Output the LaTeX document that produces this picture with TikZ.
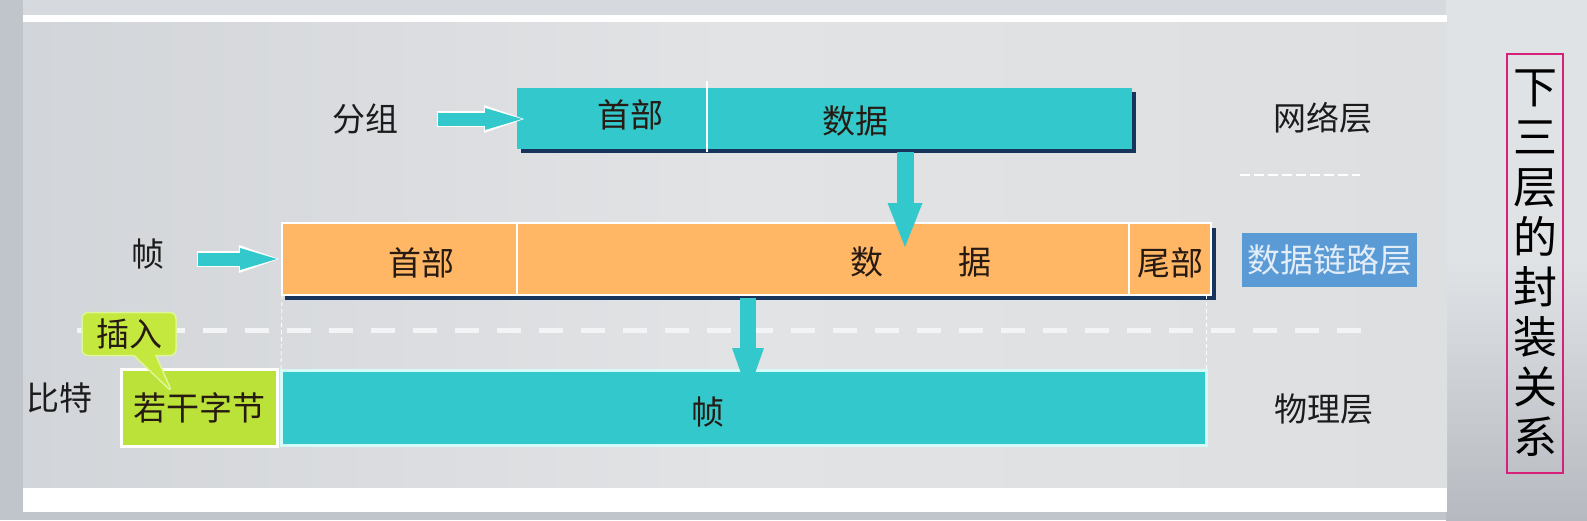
\documentclass[tikz,border=0pt]{standalone}
\usepackage{fontspec}
\setmainfont{Noto Sans CJK SC}
\usetikzlibrary{arrows.meta,calc,shapes.callouts}

\definecolor{tealc}{RGB}{51,201,204}
\definecolor{orangec}{RGB}{255,183,102}
\definecolor{navyc}{RGB}{22,52,92}
\definecolor{limec}{RGB}{186,226,56}
\definecolor{limec2}{RGB}{196,232,62}
\definecolor{limelt}{RGB}{222,246,150}
\definecolor{bluec}{RGB}{91,155,213}
\definecolor{bluetxt}{RGB}{226,237,248}
\definecolor{magc}{RGB}{214,32,122}
\definecolor{txtc}{RGB}{28,28,28}
\definecolor{boxtxt}{RGB}{38,26,18}
\definecolor{cyanlt}{RGB}{212,250,250}
\definecolor{outerc}{RGB}{192,197,203}
\definecolor{outtop}{RGB}{214,217,221}
\definecolor{panL}{RGB}{210,213,217}
\definecolor{panM}{RGB}{226,227,229}
\definecolor{panR}{RGB}{221,223,225}
\definecolor{rtT}{RGB}{224,227,230}
\definecolor{rtB}{RGB}{182,186,192}
\definecolor{dashw}{RGB}{242,244,246}

\begin{document}
\begin{tikzpicture}[x=1pt,y=-1pt,
  cell/.style={rectangle, inner sep=0pt, outer sep=0pt, anchor=north west},
  lbl/.style={font=\fontsize{33}{36}\selectfont, text=txtc, inner sep=0pt},
  bxt/.style={font=\fontsize{33}{36}\selectfont, text=boxtxt, inner sep=0pt},
  fatwhite/.style={white, line width=16pt, -{Triangle[width=28pt,length=40pt,line width=0pt]}, shorten >=-2pt, shorten <=-1.5pt},
  fath/.style={tealc, line width=13pt, -{Triangle[width=22pt,length=37pt,line width=0pt]}},
  fatv/.style={tealc, line width=17pt, -{Triangle[width=35pt,length=44pt,line width=0pt]}},
  vdash/.style={white, line width=0.8pt, dash pattern=on 4pt off 3pt},
  sepline/.style={white, line width=2pt}
]
\useasboundingbox (0,0) rectangle (1587,520);

% ---------- background ----------
\fill[outerc] (0,0) rectangle (1587,520);
\fill[outtop] (23,0) rectangle (1446,15);
\shade[top color=rtT, bottom color=rtB, middle color=rtT] (1446,0) rectangle (1587,520);
\fill[white] (23,15) rectangle (1447,22);
\shade[left color=panL, right color=panR, middle color=panM] (23,22) rectangle (1447,488);
\fill[white] (23,488) rectangle (1447,512);

% ---------- network layer ----------
\fill[navyc] (521,92) rectangle (1136,153);
\node[cell, fill=tealc, minimum width=190pt, minimum height=61pt] (nh) at (517,88) {};
\node[cell, fill=tealc, minimum width=425pt, minimum height=61pt] (nd) at (707,88) {};
\draw[sepline] (707,81) -- (707,152);
\node[bxt] (nht) at (630,115) {首部};
\node[bxt] (ndt) at (855,121) {数据};

\node[lbl] (fz) at (365,119) {分组};
\coordinate (a0s) at (438,119);
\coordinate (a0e) at (522,119);
\draw[fatwhite] (a0s) -- (a0e);
\draw[fath] (a0s) -- (a0e);

\node[lbl] (wl) at (1323,118) {网络层};
\draw[white, line width=2.5pt, dash pattern=on 10pt off 4pt] (1240,175) -- (1360,175);

% ---------- data link layer ----------
\fill[navyc] (285,228) rectangle (1216,300);
\node[cell, fill=orangec, draw=white, line width=2pt, minimum width=235pt, minimum height=72pt] (fh) at (282,223) {};
\node[cell, fill=orangec, draw=white, line width=2pt, minimum width=612pt, minimum height=72pt] (fd) at (517,223) {};
\node[cell, fill=orangec, draw=white, line width=2pt, minimum width=82pt, minimum height=72pt] (ft) at (1129,223) {};
\node[bxt] (fht) at (421,263) {首部};
\node[bxt] (fd1) at (867,262) {数};
\node[bxt] (fd2) at (975,262) {据};
\node[bxt] (ftt) at (1170,263) {尾部};

\node[lbl] (zh) at (148,254) {帧};
\coordinate (a3s) at (198,259);
\coordinate (a3e) at (277,259);
\draw[fatwhite] (a3s) -- (a3e);
\draw[fath] (a3s) -- (a3e);

\node[cell, fill=bluec, minimum width=175pt, minimum height=54pt,
      font=\fontsize{33}{36}\selectfont, text=bluetxt] (dll) at (1242,233) {数据链路层};

% arrow network -> frame
\coordinate (a1s) at (905,152);
\coordinate (a1e) at (905,247);
\draw[fatv] (a1s) -- (a1e);

% ---------- separators ----------
\draw[dashw, line width=5pt, dash pattern=on 24pt off 18pt] (77,330) -- (1363,330);

% ---------- physical layer ----------
\node[cell, fill=limec, draw=white, line width=3pt, minimum width=156pt, minimum height=77pt,
      font=\fontsize{33}{36}\selectfont, text=boxtxt] (ruo) at (121,369) {若干字节};
\node[cell, fill=tealc, draw=cyanlt, line width=3pt, minimum width=925pt, minimum height=75pt] (bf) at (281,370) {};
\node[bxt] (bft) at (708,412) {帧};

\draw[vdash] (fh.south west) -- (bf.north west);
\draw[vdash] (bf.north east |- ft.south east) -- (bf.north east);

\coordinate (a2s) at (748,298);
\coordinate (a2e) at (748,393);
\draw[tealc, line width=16pt, -{Triangle[width=32pt,length=45pt,line width=0pt]}] (a2s) -- (a2e);

\node[lbl] (bt) at (59,398) {比特};
\node[lbl] (wlc) at (1324,409) {物理层};

\node[rectangle callout, rounded corners=6pt, fill=limec2, draw=limelt, line width=1.5pt,
      minimum width=94pt, minimum height=43pt, inner sep=0pt,
      callout absolute pointer={(172,392)}, callout pointer width=22pt,
      font=\fontsize{33}{36}\selectfont, text=boxtxt] (cr) at (129,334) {插入};

% ---------- vertical title ----------
\node[draw=magc, line width=1.5pt, minimum width=56pt, minimum height=419pt, inner sep=0pt,
      align=center, font=\fontsize{44}{50}\selectfont, text=black] (vt) at (1535,263.5)
      {下\\三\\层\\的\\封\\装\\关\\系};
\end{tikzpicture}
\end{document}
